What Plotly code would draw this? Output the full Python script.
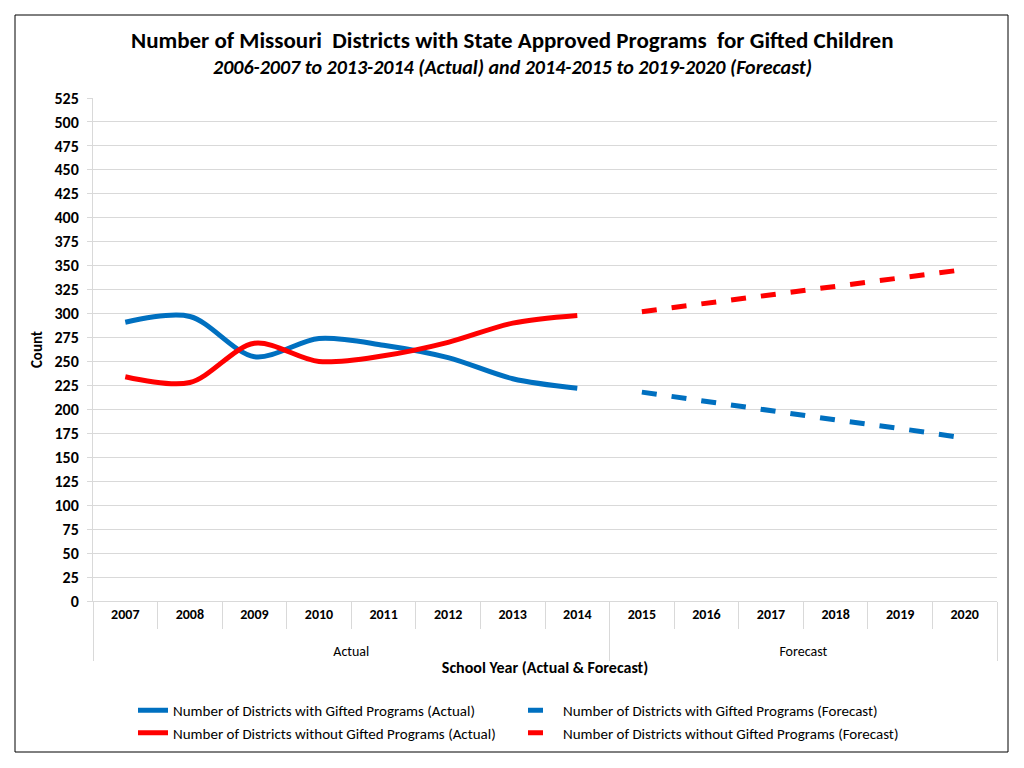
import plotly.graph_objects as go

years_actual = ["2007", "2008", "2009", "2010", "2011", "2012", "2013", "2014"]
years_forecast = ["2015", "2016", "2017", "2018", "2019", "2020"]

with_actual = [291, 297, 255, 274, 267, 254, 232, 222]
without_actual = [234, 228, 269, 250, 256, 270, 290, 298]
with_forecast = [218, 208, 199, 189, 180, 170]
without_forecast = [302, 311, 320, 328, 337, 346]

names = [
    "Number of Districts with Gifted Programs (Actual)",
    "Number of Districts with Gifted Programs (Forecast)",
    "Number of Districts without Gifted Programs (Actual)",
    "Number of Districts without Gifted Programs (Forecast)",
]

BLUE = "#0070C0"
RED = "#FF0000"
GRID = "#D9D9D9"
FONT = "Carlito, Calibri, Liberation Sans, Arial, sans-serif"

bold = lambda lst: [f"<b>{v}</b>" for v in lst]
xa = [["<br>Actual"] * len(years_actual), bold(years_actual)]
xf = [["<br>Forecast"] * len(years_forecast), bold(years_forecast)]

fig = go.Figure()
fig.add_trace(go.Scatter(x=xa, y=with_actual, mode="lines", name=names[0],
                         line=dict(color=BLUE, width=5, shape="spline", smoothing=0.9)))
fig.add_trace(go.Scatter(x=xf, y=with_forecast, mode="lines", name=names[1],
                         line=dict(color=BLUE, width=5, dash="dash")))
fig.add_trace(go.Scatter(x=xa, y=without_actual, mode="lines", name=names[2],
                         line=dict(color=RED, width=5, shape="spline", smoothing=0.9)))
fig.add_trace(go.Scatter(x=xf, y=without_forecast, mode="lines", name=names[3],
                         line=dict(color=RED, width=5, dash="dash")))

OFF = 8  # page offset of the plot div
W, H = 1024, 768
# screen coordinates of plot area in the reference
SL, SR, ST, SB = 93, 997, 98, 601
L = SL - OFF
T = ST - OFF
R = W - (SR - OFF)
B = H - (SB - OFF)
pw, ph = SR - SL, SB - ST

def px(x):
    return (x - SL) / pw

def py(y):
    return (SB - y) / ph

fig.add_shape(type="rect", xref="paper", yref="paper",
              x0=px(15), x1=px(1008), y0=py(752), y1=py(15),
              line=dict(color="black", width=1), layer="below")

fig.add_annotation(text="<b>Number of Missouri  Districts with State Approved Programs  for Gifted Children</b>",
                   xref="paper", yref="paper", x=px(512), y=py(40), showarrow=False,
                   xanchor="center", yanchor="middle",
                   font=dict(size=23, color="black", family=FONT))
fig.add_annotation(text="<b><i>2006-2007 to 2013-2014 (Actual) and 2014-2015 to 2019-2020 (Forecast)</i></b>",
                   xref="paper", yref="paper", x=px(512), y=py(67), showarrow=False,
                   xanchor="center", yanchor="middle",
                   font=dict(size=20, color="black", family=FONT))

fig.update_layout(
    width=W, height=H,
    margin=dict(l=L, r=R, t=T, b=B),
    paper_bgcolor="white", plot_bgcolor="white",
    font=dict(family=FONT, color="black", size=13),
    showlegend=True,
    legend=dict(orientation="h", x=px(133), xanchor="left", y=py(694), yanchor="top",
                entrywidth=345, entrywidthmode="pixels",
                font=dict(size=15, family=FONT, color="black"),
                tracegroupgap=0),
)

fig.update_xaxes(
    type="multicategory",
    range=[-0.5, 13.5],
    showgrid=False,
    showline=True, linecolor=GRID, linewidth=1,
    ticks="outside", ticklen=27, tickcolor=GRID,
    showdividers=True, dividercolor=GRID, dividerwidth=1,
    tickfont=dict(size=14, family=FONT, color="black"),
    title=dict(text="<b>School Year (Actual & Forecast)</b>",
               font=dict(size=16, family=FONT, color="black"), standoff=2),
)
fig.update_yaxes(
    range=[0, 525], dtick=25, tick0=0,
    showgrid=True, gridcolor=GRID, gridwidth=1,
    showline=True, linecolor=GRID,
    zeroline=False,
    ticks="outside", ticklen=5, tickcolor=GRID,
    ticklabelstandoff=5,
    tickprefix="<b>", ticksuffix="</b>",
    tickfont=dict(size=16, family=FONT, color="black"),
    title=dict(text="<b>Count</b>", font=dict(size=15, family=FONT, color="black"), standoff=8),
)

fig.write_html("out.html")
